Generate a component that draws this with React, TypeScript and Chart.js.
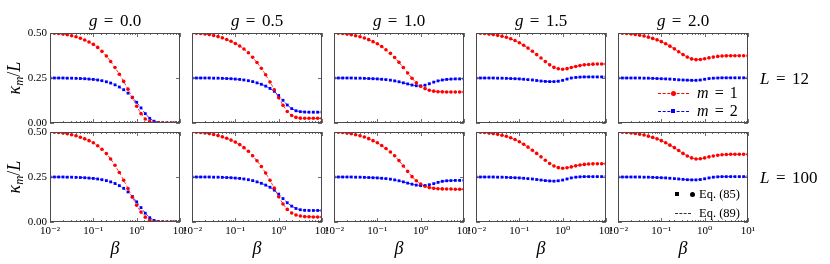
import React, { useEffect, useRef } from 'react';
import { Chart, registerables } from 'chart.js';

Chart.register(...registerables);

// ---------------- data ----------------
const beta = [0.01, 0.0126, 0.0158, 0.02, 0.0251, 0.0316, 0.0398, 0.0501, 0.0631, 0.0794, 0.1, 0.126, 0.158, 0.2, 0.251, 0.316, 0.398, 0.501, 0.631, 0.794, 1, 1.26, 1.58, 2, 2.51, 3.16, 3.98, 5.01, 6.31, 7.94, 10];

const gLabels = ['0.0', '0.5', '1.0', '1.5', '2.0'];
const lLabels = ['12', '100'];
const yTicks = [0, 0.25, 0.5];
const xTickLabels = ['10⁻²', '10⁻¹', '10⁰', '10¹'];

// L = 12, m = 1
const m1L12g00 = [0.500, 0.499, 0.497, 0.494, 0.490, 0.485, 0.479, 0.471, 0.461, 0.450, 0.437, 0.420, 0.398, 0.372, 0.342, 0.308, 0.271, 0.231, 0.188, 0.141, 0.093, 0.052, 0.022, 0.008, 0.002, 0.001, 0, 0, 0, 0, 0];
const m1L12g05 = [0.500, 0.499, 0.497, 0.495, 0.491, 0.486, 0.480, 0.473, 0.464, 0.454, 0.442, 0.428, 0.411, 0.390, 0.365, 0.336, 0.304, 0.268, 0.228, 0.185, 0.140, 0.098, 0.064, 0.042, 0.031, 0.027, 0.026, 0.026, 0.026, 0.026, 0.026];
const m1L12g10 = [0.500, 0.499, 0.497, 0.494, 0.490, 0.485, 0.479, 0.472, 0.463, 0.452, 0.440, 0.425, 0.407, 0.387, 0.364, 0.337, 0.308, 0.278, 0.249, 0.223, 0.204, 0.191, 0.182, 0.177, 0.174, 0.173, 0.172, 0.172, 0.172, 0.172, 0.172];
const m1L12g15 = [0.500, 0.499, 0.497, 0.494, 0.491, 0.487, 0.482, 0.476, 0.468, 0.458, 0.446, 0.432, 0.416, 0.399, 0.380, 0.361, 0.341, 0.323, 0.309, 0.301, 0.299, 0.302, 0.308, 0.314, 0.319, 0.323, 0.325, 0.327, 0.328, 0.328, 0.328];
const m1L12g20 = [0.500, 0.499, 0.497, 0.495, 0.492, 0.488, 0.483, 0.477, 0.470, 0.462, 0.452, 0.440, 0.427, 0.412, 0.396, 0.380, 0.366, 0.356, 0.352, 0.353, 0.357, 0.362, 0.366, 0.370, 0.372, 0.373, 0.374, 0.374, 0.374, 0.374, 0.374];

// L = 12, m = 2
const m2L12g00 = [0.250, 0.250, 0.250, 0.250, 0.249, 0.249, 0.248, 0.247, 0.246, 0.244, 0.242, 0.239, 0.235, 0.229, 0.222, 0.212, 0.200, 0.185, 0.166, 0.143, 0.115, 0.084, 0.052, 0.026, 0.010, 0.003, 0.001, 0, 0, 0, 0];
const m2L12g05 = [0.250, 0.250, 0.250, 0.250, 0.250, 0.249, 0.249, 0.248, 0.247, 0.246, 0.244, 0.242, 0.239, 0.235, 0.230, 0.223, 0.215, 0.205, 0.192, 0.176, 0.153, 0.126, 0.100, 0.080, 0.068, 0.063, 0.061, 0.060, 0.060, 0.060, 0.060];
const m2L12g10 = [0.250, 0.250, 0.250, 0.250, 0.250, 0.249, 0.249, 0.248, 0.247, 0.246, 0.245, 0.243, 0.241, 0.238, 0.234, 0.229, 0.223, 0.217, 0.211, 0.207, 0.206, 0.210, 0.218, 0.227, 0.234, 0.239, 0.242, 0.244, 0.245, 0.245, 0.245];
const m2L12g15 = [0.250, 0.250, 0.250, 0.250, 0.250, 0.249, 0.249, 0.248, 0.247, 0.246, 0.245, 0.243, 0.241, 0.239, 0.236, 0.233, 0.231, 0.230, 0.230, 0.232, 0.237, 0.244, 0.250, 0.253, 0.255, 0.256, 0.256, 0.256, 0.256, 0.256, 0.256];
const m2L12g20 = [0.250, 0.250, 0.250, 0.250, 0.250, 0.250, 0.249, 0.249, 0.248, 0.247, 0.246, 0.245, 0.244, 0.242, 0.240, 0.239, 0.238, 0.237, 0.237, 0.239, 0.243, 0.247, 0.249, 0.250, 0.251, 0.251, 0.251, 0.251, 0.251, 0.251, 0.251];

// L = 100, m = 1
const m1L100g00 = [0.500, 0.499, 0.497, 0.494, 0.490, 0.485, 0.479, 0.471, 0.462, 0.452, 0.440, 0.424, 0.404, 0.380, 0.350, 0.315, 0.275, 0.232, 0.186, 0.138, 0.093, 0.055, 0.027, 0.010, 0.003, 0.001, 0, 0, 0, 0, 0];
const m1L100g05 = [0.500, 0.499, 0.497, 0.495, 0.491, 0.486, 0.480, 0.473, 0.465, 0.455, 0.444, 0.430, 0.413, 0.393, 0.368, 0.340, 0.308, 0.272, 0.232, 0.188, 0.140, 0.100, 0.070, 0.050, 0.039, 0.033, 0.030, 0.029, 0.028, 0.028, 0.028];
const m1L100g10 = [0.500, 0.499, 0.497, 0.494, 0.490, 0.485, 0.479, 0.472, 0.463, 0.452, 0.440, 0.425, 0.408, 0.389, 0.368, 0.341, 0.311, 0.281, 0.252, 0.229, 0.211, 0.199, 0.191, 0.187, 0.185, 0.184, 0.183, 0.183, 0.182, 0.182, 0.182];
const m1L100g15 = [0.500, 0.499, 0.497, 0.494, 0.491, 0.487, 0.482, 0.476, 0.468, 0.458, 0.446, 0.432, 0.416, 0.399, 0.381, 0.362, 0.343, 0.325, 0.311, 0.302, 0.299, 0.301, 0.306, 0.312, 0.317, 0.320, 0.322, 0.323, 0.324, 0.324, 0.324];
const m1L100g20 = [0.500, 0.499, 0.497, 0.495, 0.492, 0.488, 0.483, 0.477, 0.470, 0.462, 0.452, 0.440, 0.427, 0.413, 0.397, 0.381, 0.367, 0.356, 0.350, 0.351, 0.356, 0.362, 0.367, 0.371, 0.374, 0.375, 0.376, 0.376, 0.376, 0.376, 0.376];

// L = 100, m = 2
const m2L100g00 = [0.250, 0.250, 0.250, 0.250, 0.249, 0.249, 0.248, 0.247, 0.246, 0.244, 0.242, 0.239, 0.235, 0.230, 0.223, 0.214, 0.202, 0.187, 0.167, 0.142, 0.112, 0.080, 0.049, 0.024, 0.009, 0.003, 0.001, 0, 0, 0, 0];
const m2L100g05 = [0.250, 0.250, 0.250, 0.250, 0.250, 0.249, 0.249, 0.248, 0.247, 0.246, 0.244, 0.242, 0.239, 0.235, 0.230, 0.223, 0.215, 0.205, 0.193, 0.177, 0.155, 0.130, 0.107, 0.088, 0.075, 0.068, 0.065, 0.064, 0.064, 0.064, 0.064];
const m2L100g10 = [0.250, 0.250, 0.250, 0.250, 0.250, 0.249, 0.249, 0.248, 0.247, 0.246, 0.245, 0.243, 0.241, 0.238, 0.234, 0.229, 0.223, 0.216, 0.210, 0.205, 0.202, 0.203, 0.207, 0.213, 0.220, 0.226, 0.229, 0.230, 0.231, 0.231, 0.231];
const m2L100g15 = [0.250, 0.250, 0.250, 0.250, 0.250, 0.249, 0.249, 0.248, 0.247, 0.246, 0.245, 0.243, 0.241, 0.239, 0.236, 0.233, 0.230, 0.228, 0.227, 0.229, 0.233, 0.239, 0.245, 0.249, 0.251, 0.252, 0.252, 0.252, 0.252, 0.252, 0.252];
const m2L100g20 = [0.250, 0.250, 0.250, 0.250, 0.250, 0.250, 0.249, 0.249, 0.248, 0.247, 0.246, 0.245, 0.243, 0.241, 0.239, 0.237, 0.235, 0.234, 0.234, 0.236, 0.240, 0.245, 0.249, 0.251, 0.252, 0.252, 0.252, 0.252, 0.252, 0.252, 0.252];

const seriesM1 = [
  [m1L12g00, m1L12g05, m1L12g10, m1L12g15, m1L12g20],
  [m1L100g00, m1L100g05, m1L100g10, m1L100g15, m1L100g20],
];
const seriesM2 = [
  [m2L12g00, m2L12g05, m2L12g10, m2L12g15, m2L12g20],
  [m2L100g00, m2L100g05, m2L100g10, m2L100g15, m2L100g20],
];

// ---------------- layout / style ----------------
const RED = '#ff0000';
const BLUE = '#0000ff';
const FRAME = '#4a4a4a';
const SERIF = "'Liberation Serif', 'DejaVu Serif', serif";
const PLOT_LEFT = [50, 192, 334, 476, 618];
const PLOT_TOP = [33, 132];
const PW = 130;
const PH = 90;
const PAD_L = 45;
const PAD_R = 26;
const PAD_T = 6;
const PAD_B = 26;
const CW = PW + PAD_L + PAD_R;
const CH = PH + PAD_T + PAD_B;

const isDecade = (v: number) => {
  const e = Math.log10(v);
  return Math.abs(e - Math.round(e)) < 1e-6;
};

const frameTicks = {
  id: 'frameTicks',
  afterDatasetsDraw(chart: any) {
    const { ctx, chartArea: a, scales } = chart;
    const x = scales.x;
    const y = scales.y;
    ctx.save();
    ctx.strokeStyle = FRAME;
    ctx.lineWidth = 0.8;
    ctx.beginPath();
    for (const t of x.ticks) {
      const px = Math.round(x.getPixelForValue(t.value)) + 0.5;
      const len = isDecade(t.value) ? 4 : 2;
      ctx.moveTo(px, a.bottom);
      ctx.lineTo(px, a.bottom - len);
      ctx.moveTo(px, a.top);
      ctx.lineTo(px, a.top + len);
    }
    for (const t of y.ticks) {
      const py = Math.round(y.getPixelForValue(t.value)) + 0.5;
      ctx.moveTo(a.left, py);
      ctx.lineTo(a.left + 4, py);
      ctx.moveTo(a.right, py);
      ctx.lineTo(a.right - 4, py);
    }
    ctx.stroke();
    ctx.lineWidth = 1;
    ctx.strokeRect(a.left + 0.5, a.top + 0.5, a.right - a.left - 1, a.bottom - a.top - 1);
    ctx.restore();
  },
};

function Panel({ row, col }: { row: number; col: number }) {
  const ref = useRef<HTMLCanvasElement | null>(null);
  useEffect(() => {
    if (!ref.current) return;
    const toPts = (arr: number[]) => beta.map((b, i) => ({ x: b, y: arr[i] }));
    const r = toPts(seriesM1[row][col]);
    const b = toPts(seriesM2[row][col]);
    const chart = new Chart(ref.current, {
      type: 'line',
      data: {
        datasets: [
          { data: r, borderColor: RED, borderWidth: 0.8, borderDash: [3, 2], pointRadius: 0, fill: false, tension: 0, clip: 0 } as any,
          { data: b, borderColor: BLUE, borderWidth: 0.8, borderDash: [3, 2], pointRadius: 0, fill: false, tension: 0, clip: 0 } as any,
          { data: r, showLine: false, pointRadius: 1.8, pointStyle: 'circle', backgroundColor: RED, borderColor: RED, pointBorderWidth: 0, clip: 0 } as any,
          { data: b, showLine: false, pointRadius: 2.0, pointStyle: 'rect', backgroundColor: BLUE, borderColor: BLUE, pointBorderWidth: 0, clip: 0 } as any,
        ],
      },
      options: {
        responsive: false,
        animation: false,
        events: [],
        layout: { padding: { left: 0, right: PAD_R, top: PAD_T, bottom: 0 } },
        plugins: { legend: { display: false }, tooltip: { enabled: false }, title: { display: false } },
        scales: {
          x: {
            type: 'logarithmic',
            min: 0.01,
            max: 10,
            afterFit: (s: any) => {
              s.height = PAD_B;
              s.paddingLeft = 0;
              s.paddingRight = 0;
            },
            grid: { display: false, drawTicks: false },
            border: { display: false },
            ticks: {
              display: row === 1,
              autoSkip: false,
              maxRotation: 0,
              minRotation: 0,
              padding: 3,
              color: '#000',
              font: { family: SERIF, size: 11 },
              callback: (v: any) => {
                const n = Number(v);
                if (!isDecade(n)) return '';
                return xTickLabels[Math.round(Math.log10(n)) + 2];
              },
            },
          },
          y: {
            min: 0,
            max: 0.5,
            afterBuildTicks: (s: any) => {
              s.ticks = yTicks.map((v) => ({ value: v }));
            },
            afterFit: (s: any) => {
              s.width = PAD_L;
              s.paddingTop = 0;
              s.paddingBottom = 0;
            },
            grid: { display: false, drawTicks: false },
            border: { display: false },
            ticks: {
              display: col === 0,
              padding: 3,
              color: '#000',
              font: { family: SERIF, size: 11 },
              callback: (v: any) => Number(v).toFixed(2),
            },
          },
        },
      } as any,
      plugins: [frameTicks],
    });
    return () => chart.destroy();
  }, [row, col]);
  return (
    <canvas
      ref={ref}
      width={CW}
      height={CH}
      style={{ position: 'absolute', left: PLOT_LEFT[col] - PAD_L, top: PLOT_TOP[row] - PAD_T, width: CW, height: CH }}
    />
  );
}

const centered = (x: number, y: number, extra: React.CSSProperties = {}): React.CSSProperties => ({
  position: 'absolute',
  left: x,
  top: y,
  transform: 'translate(-50%, -50%)',
  whiteSpace: 'nowrap',
  lineHeight: 1,
  fontFamily: SERIF,
  color: '#000',
  ...extra,
});

const leftMid = (x: number, y: number, extra: React.CSSProperties = {}): React.CSSProperties => ({
  position: 'absolute',
  left: x,
  top: y,
  transform: 'translateY(-50%)',
  whiteSpace: 'nowrap',
  lineHeight: 1,
  fontFamily: SERIF,
  color: '#000',
  ...extra,
});

const EqSign = () => <span style={{ margin: '0 0.38em' }}>=</span>;

export default function App() {
  const panels = [];
  for (let row = 0; row < 2; row++) {
    for (let col = 0; col < 5; col++) {
      panels.push(<Panel key={`${row}-${col}`} row={row} col={col} />);
    }
  }
  return (
    <div style={{ position: 'absolute', left: 0, top: 0, width: 830, height: 264, background: '#fff', overflow: 'hidden' }}>
      {panels}
      {gLabels.map((g, c) => (
        <div key={`t${c}`} style={centered(PLOT_LEFT[c] + PW / 2, 20, { fontSize: 17 })}>
          <i>g</i>
          <EqSign />
          {g}
        </div>
      ))}
      {gLabels.map((_, c) => (
        <div key={`b${c}`} style={centered(PLOT_LEFT[c] + PW / 2, 248, { fontSize: 18, fontStyle: 'italic' })}>β</div>
      ))}
      {lLabels.map((l, r) => (
        <div key={`l${r}`} style={leftMid(760, PLOT_TOP[r] + PH / 2, { fontSize: 17 })}>
          <i>L</i>
          <EqSign />
          {l}
        </div>
      ))}
      {lLabels.map((_, r) => (
        <div
          key={`y${r}`}
          style={centered(15, PLOT_TOP[r] + PH / 2, { fontSize: 18, transform: 'translate(-50%, -50%) rotate(-90deg)' })}
        >
          <i>κ</i>
          <sub style={{ fontSize: '0.7em', fontStyle: 'italic', verticalAlign: '-0.25em' }}>m</sub>
          /<i>L</i>
        </div>
      ))}

      {/* legend: m = 1 / m = 2 */}
      <div style={{ position: 'absolute', left: 658, top: 92.5, width: 31, height: 0, borderTop: `1px dashed ${RED}` }} />
      <div style={{ position: 'absolute', left: 670.5, top: 90.5, width: 5, height: 5, borderRadius: '50%', background: RED }} />
      <div style={leftMid(697, 93, { fontSize: 16 })}>
        <i>m</i>
        <EqSign />1
      </div>
      <div style={{ position: 'absolute', left: 658, top: 110.5, width: 31, height: 0, borderTop: `1px dashed ${BLUE}` }} />
      <div style={{ position: 'absolute', left: 671, top: 109, width: 4, height: 4, background: BLUE }} />
      <div style={leftMid(697, 111, { fontSize: 16 })}>
        <i>m</i>
        <EqSign />2
      </div>

      {/* legend: Eq. (85) / Eq. (89) */}
      <div style={{ position: 'absolute', left: 675, top: 192, width: 4, height: 4, background: '#000' }} />
      <div style={{ position: 'absolute', left: 689.5, top: 191.5, width: 5, height: 5, borderRadius: '50%', background: '#000' }} />
      <div style={leftMid(699, 194, { fontSize: 12.5 })}>Eq. (85)</div>
      <div style={{ position: 'absolute', left: 675, top: 212.5, width: 16, height: 0, borderTop: '1px dashed #333' }} />
      <div style={leftMid(699, 213, { fontSize: 12.5 })}>Eq. (89)</div>
    </div>
  );
}
